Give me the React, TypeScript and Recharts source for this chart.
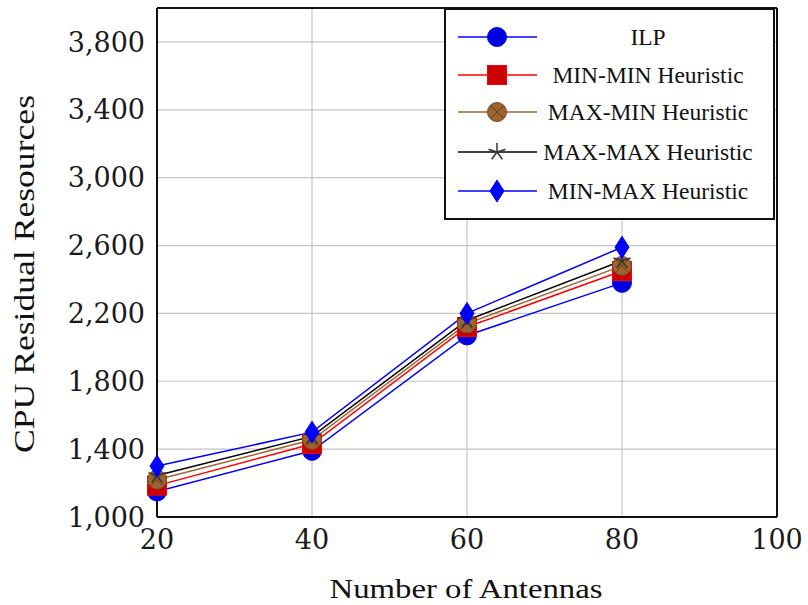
import React from 'react';
import {
  CartesianGrid,
  Legend,
  Line,
  LineChart,
  ReferenceLine,
  XAxis,
  YAxis,
} from 'recharts';

const antennas = [20, 40, 60, 80];
const ilp = [1150, 1390, 2070, 2380];
const minMin = [1185, 1430, 2120, 2450];
const maxMin = [1220, 1455, 2140, 2480];
const maxMax = [1245, 1475, 2160, 2510];
const minMax = [1300, 1500, 2200, 2590];

const xTicks = [20, 40, 60, 80, 100];
const yTicks = [1000, 1400, 1800, 2200, 2600, 3000, 3400, 3800];

const data = antennas.map((a, i) => ({
  antennas: a,
  ilp: ilp[i],
  minMin: minMin[i],
  maxMin: maxMin[i],
  maxMax: maxMax[i],
  minMax: minMax[i],
}));

type Shape = 'circle' | 'square' | 'otimes' | 'star' | 'diamond';

const series: { key: string; name: string; color: string; shape: Shape }[] = [
  { key: 'ilp', name: 'ILP', color: '#0000ff', shape: 'circle' },
  { key: 'minMin', name: 'MIN-MIN Heuristic', color: '#ff0000', shape: 'square' },
  { key: 'maxMin', name: 'MAX-MIN Heuristic', color: '#996633', shape: 'otimes' },
  { key: 'maxMax', name: 'MAX-MAX Heuristic', color: '#000000', shape: 'star' },
  { key: 'minMax', name: 'MIN-MAX Heuristic', color: '#0000ff', shape: 'diamond' },
];

function Marker({ shape, cx, cy }: { shape: Shape; cx: number; cy: number }) {
  switch (shape) {
    case 'circle':
      return <circle cx={cx} cy={cy} r={9.5} fill="#0000e0" stroke="#0000ff" strokeWidth={1} />;
    case 'square':
      return (
        <rect x={cx - 9.5} y={cy - 9.5} width={19} height={19} fill="#cc0000" stroke="#ff0000" strokeWidth={1} />
      );
    case 'otimes': {
      const d = 6.5;
      return (
        <g>
          <circle cx={cx} cy={cy} r={9.5} fill="#9c6431" stroke="#7a4a20" strokeWidth={1} />
          <path
            d={`M${cx - d},${cy - d}L${cx + d},${cy + d}M${cx - d},${cy + d}L${cx + d},${cy - d}`}
            stroke="#6b3f18"
            strokeWidth={1}
          />
        </g>
      );
    }
    case 'star': {
      let d = '';
      for (let k = 0; k < 5; k++) {
        const a = (-90 + 72 * k) * (Math.PI / 180);
        d += `M${cx},${cy}L${cx + 9 * Math.cos(a)},${cy + 9 * Math.sin(a)}`;
      }
      return <path d={d} stroke="#333" strokeWidth={1.5} fill="none" />;
    }
    case 'diamond':
      return (
        <path
          d={`M${cx},${cy - 11}L${cx + 7},${cy}L${cx},${cy + 11}L${cx - 7},${cy}Z`}
          fill="#0000ff"
          stroke="#0000ff"
        />
      );
  }
}

function LegendBox() {
  const rows = [38, 76, 113, 153, 192];
  return (
    <svg width={331} height={212} style={{ display: 'block' }}>
      <rect x={1} y={1} width={329} height={210} fill="#fff" stroke="#111" strokeWidth={2} />
      {series.map((s, i) => {
        const y = rows[i] - 9;
        return (
          <g key={s.key}>
            <line x1={14} x2={93} y1={y} y2={y} stroke={s.color} strokeWidth={1.5} />
            <Marker shape={s.shape} cx={53} cy={y} />
            <text
              x={204}
              y={y + 8}
              textAnchor="middle"
              fontFamily="'Liberation Serif', serif"
              fontSize={23.5}
              fill="#111"
            >
              {s.name}
            </text>
          </g>
        );
      })}
    </svg>
  );
}

const tickStyle = { fill: '#1a1a1a', fontSize: 27, fontFamily: "'DejaVu Serif', serif" };

export default function App() {
  return (
    <div style={{ position: 'absolute', left: 0, top: 0, background: '#fff' }}>
      <LineChart
        width={808}
        height={605}
        data={data}
        margin={{ top: 8, right: 31, left: 7, bottom: 48 }}
      >
        <CartesianGrid stroke="#c4c4c4" strokeWidth={1.2} verticalValues={xTicks} horizontalValues={yTicks} />
        <XAxis
          dataKey="antennas"
          type="number"
          domain={[20, 100]}
          ticks={xTicks}
          height={40}
          tickLine={false}
          tickMargin={7}
          axisLine={{ stroke: '#111', strokeWidth: 2 }}
          tick={tickStyle}
          label={({ viewBox }: any) => (
            <text
              x={viewBox.x + viewBox.width / 2 - 1}
              y={598}
              textAnchor="middle"
              fontFamily="'Liberation Serif', serif"
              fontSize={27}
              fill="#111"
              textLength={273}
              lengthAdjust="spacingAndGlyphs"
            >
              Number of Antennas
            </text>
          )}
        />
        <YAxis
          type="number"
          domain={[1000, 4000]}
          ticks={yTicks}
          width={150}
          tickLine={false}
          tickMargin={6}
          axisLine={{ stroke: '#111', strokeWidth: 2 }}
          tick={tickStyle}
          tickFormatter={(v) => Number(v).toLocaleString('en-US')}
          label={() => (
            <text
              x={34}
              y={274}
              transform="rotate(-90 34 274)"
              textAnchor="middle"
              fontFamily="'Liberation Serif', serif"
              fontSize={29}
              fill="#111"
              textLength={358}
              lengthAdjust="spacingAndGlyphs"
            >
              CPU Residual Resources
            </text>
          )}
        />
        <ReferenceLine y={4000} stroke="#111" strokeWidth={2} ifOverflow="visible" />
        <ReferenceLine x={100} stroke="#111" strokeWidth={2} ifOverflow="visible" />
        {series.map((s) => (
          <Line
            key={s.key}
            dataKey={s.key}
            name={s.name}
            stroke={s.color}
            strokeWidth={1.5}
            isAnimationActive={false}
            dot={(p: any) => <Marker key={`${s.key}-${p.index}`} shape={s.shape} cx={p.cx} cy={p.cy} />}
            activeDot={false}
          />
        ))}
        <Legend
          layout="vertical"
          align="center"
          verticalAlign="middle"
          wrapperStyle={{ left: 444, top: 8, width: 331, height: 212 }}
          content={() => <LegendBox />}
        />
      </LineChart>
    </div>
  );
}
